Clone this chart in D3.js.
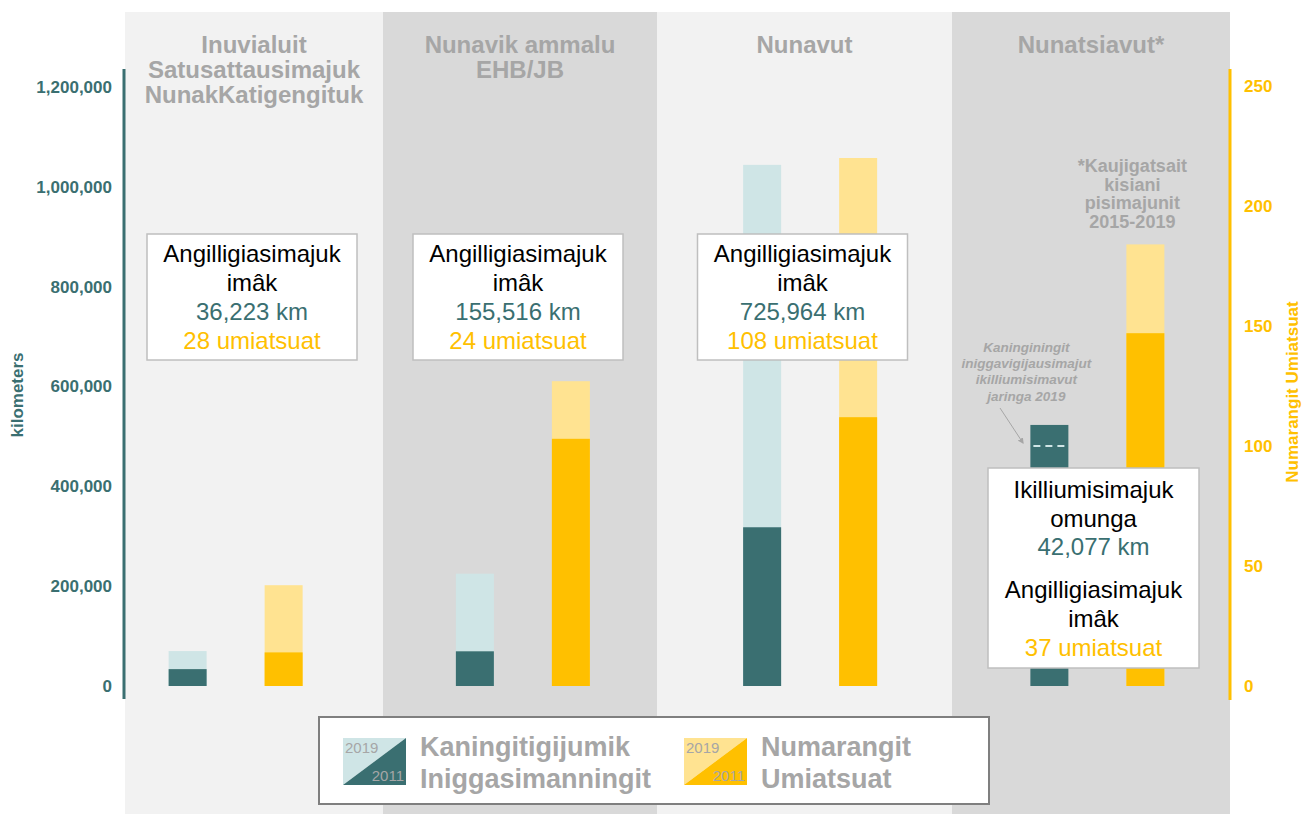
<!DOCTYPE html>
<html><head><meta charset="utf-8">
<script src="https://cdn.jsdelivr.net/npm/d3@7"></script>
<style>
html,body{margin:0;padding:0;background:#fff;}
svg{display:block;font-family:"Liberation Sans",Arial,sans-serif;}
</style></head>
<body>
<svg id="c" width="1304" height="814"></svg>
<script>
// ---- data ----
const categories = ["Inuvialuit", "Nunavik", "Nunavut", "Nunatsiavut"];
const titleLines = [
  ["Inuvialuit", "Satusattausimajuk", "NunakKatigengituk"],
  ["Nunavik ammalu", "EHB/JB"],
  ["Nunavut"],
  ["Nunatsiavut*"]
];
const km2011 = [33800, 69500, 318000, 523000];
const km2019 = [70000, 225000, 1044000, 481000];
const ships2011 = [14, 103, 112, 147];
const ships2019 = [42, 127, 220, 184];
const kmTicks = [0, 200000, 400000, 600000, 800000, 1000000, 1200000];
const shipTicks = [0, 50, 100, 150, 200, 250];
const boxKm = ["36,223 km", "155,516 km", "725,964 km", "42,077 km"];
const boxShips = ["28 umiatsuat", "24 umiatsuat", "108 umiatsuat", "37 umiatsuat"];
const noteLines = ["*Kaujigatsait", "kisiani", "pisimajunit", "2015-2019"];
const annotLines = ["Kaninginingit", "iniggavigijausimajut", "ikilliumisimavut", "jaringa 2019"];
const legendKm = ["Kaningitigijumik", "Iniggasimanningit"];
const legendShips = ["Numarangit", "Umiatsuat"];

// ---- style ----
const C = {
  teal: "#3a6f71", tealLight: "#cfe5e6",
  yellow: "#ffc000", yellowLight: "#ffe391",
  bgLight: "#f2f2f2", bgDark: "#d9d9d9",
  gray: "#a6a6a6", boxBorder: "#bfbfbf"
};
const panelEdges = [125, 383, 657, 952, 1230];
const FONT = "Liberation Sans, Arial, sans-serif";

const svg = d3.select("#c");

// scales
const x = d3.scaleBand().domain(categories).range([92, 1241]).padding(0);
const sub = d3.scalePoint().domain(["km", "ships"]).range([-48, 48]);
const yKm = d3.scaleLinear().domain([0, 1200000]).range([686, 87]);
const yShips = d3.scaleLinear().domain([0, 250]).range([686, 86]);
const cxOf = (c, s) => x(c) + x.bandwidth() / 2 + sub(s);

// panel backgrounds
categories.forEach((c, i) => {
  svg.append("rect").attr("x", panelEdges[i]).attr("y", 12)
    .attr("width", panelEdges[i + 1] - panelEdges[i]).attr("height", 802)
    .attr("fill", i % 2 === 0 ? C.bgLight : C.bgDark);
});

// titles
categories.forEach((c, i) => {
  const cx = (panelEdges[i] + panelEdges[i + 1]) / 2;
  titleLines[i].forEach((t, j) => {
    svg.append("text").attr("x", cx).attr("y", 53 + j * 25)
      .attr("text-anchor", "middle").attr("font-weight", "bold")
      .attr("font-size", 24).attr("fill", C.gray).text(t);
  });
});

const bw = 38;
// km bars
categories.forEach((c, i) => {
  const cx = cxOf(c, "km");
  const a = km2011[i], b = km2019[i];
  if (b >= a) {
    svg.append("rect").attr("x", cx - bw / 2).attr("y", yKm(b)).attr("width", bw)
      .attr("height", yKm(0) - yKm(b)).attr("fill", C.tealLight);
    svg.append("rect").attr("x", cx - bw / 2).attr("y", yKm(a)).attr("width", bw)
      .attr("height", yKm(0) - yKm(a)).attr("fill", C.teal);
  } else {
    svg.append("rect").attr("x", cx - bw / 2).attr("y", yKm(a)).attr("width", bw)
      .attr("height", yKm(0) - yKm(a)).attr("fill", C.teal);
    svg.append("line").attr("x1", cx - bw / 2 + 3).attr("x2", cx + bw / 2 - 3)
      .attr("y1", yKm(b)).attr("y2", yKm(b))
      .attr("stroke", C.tealLight).attr("stroke-width", 2).attr("stroke-dasharray", "7,5");
  }
});
// ship bars
categories.forEach((c, i) => {
  const cx = cxOf(c, "ships");
  const a = ships2011[i], b = ships2019[i];
  svg.append("rect").attr("x", cx - bw / 2).attr("y", yShips(b)).attr("width", bw)
    .attr("height", yShips(0) - yShips(b)).attr("fill", C.yellowLight);
  svg.append("rect").attr("x", cx - bw / 2).attr("y", yShips(a)).attr("width", bw)
    .attr("height", yShips(0) - yShips(a)).attr("fill", C.yellow);
});

// axes
const axL = svg.append("g").attr("transform", "translate(124,0)")
  .call(d3.axisLeft(yKm).tickValues(kmTicks).tickFormat(d3.format(",")).tickSize(0).tickPadding(12));
axL.select(".domain").remove();
axL.selectAll("text").attr("fill", C.teal).attr("font-size", 17).attr("font-weight", "bold")
  .attr("font-family", FONT);
svg.append("line").attr("x1", 124).attr("x2", 124).attr("y1", 69).attr("y2", 699)
  .attr("stroke", C.teal).attr("stroke-width", 3);

const axR = svg.append("g").attr("transform", "translate(1230,0)")
  .call(d3.axisRight(yShips).tickValues(shipTicks).tickSize(0).tickPadding(14));
axR.select(".domain").remove();
axR.selectAll("text").attr("fill", C.yellow).attr("font-size", 17).attr("font-weight", "bold")
  .attr("font-family", FONT);
svg.append("line").attr("x1", 1230).attr("x2", 1230).attr("y1", 69).attr("y2", 700)
  .attr("stroke", C.yellow).attr("stroke-width", 3);

svg.append("text").attr("transform", "translate(23,395) rotate(-90)")
  .attr("text-anchor", "middle").attr("font-weight", "bold").attr("font-size", 17)
  .attr("fill", C.teal).text("kilometers");
svg.append("text").attr("transform", "translate(1298,392) rotate(-90)")
  .attr("text-anchor", "middle").attr("font-weight", "bold").attr("font-size", 17)
  .attr("fill", C.yellow).text("Numarangit Umiatsuat");

// note over Nunatsiavut ships bar
const noteX = cxOf("Nunatsiavut", "ships") - 13;
noteLines.forEach((t, j) => {
  svg.append("text").attr("x", noteX).attr("y", 172 + j * 18.7)
    .attr("text-anchor", "middle").attr("font-weight", "bold").attr("font-size", 18)
    .attr("fill", C.gray).text(t);
});
// annotation
const annX = cxOf("Nunatsiavut", "km") - 23;
annotLines.forEach((t, j) => {
  svg.append("text").attr("x", annX).attr("y", 352 + j * 16.2)
    .attr("text-anchor", "middle").attr("font-weight", "bold").attr("font-style", "italic")
    .attr("font-size", 13.5).attr("fill", C.gray).text(t);
});
svg.append("defs").append("marker").attr("id", "ah").attr("viewBox", "0 0 10 10")
  .attr("refX", 8).attr("refY", 5).attr("markerWidth", 6).attr("markerHeight", 6)
  .attr("orient", "auto").append("path").attr("d", "M0,0L10,5L0,10z").attr("fill", C.gray);
svg.append("line").attr("x1", 1000).attr("y1", 408).attr("x2", 1023).attr("y2", 443)
  .attr("stroke", C.gray).attr("stroke-width", 1).attr("marker-end", "url(#ah)");

// value boxes
function textBox(cx, y0, w, h, lines) {
  svg.append("rect").attr("x", cx - w / 2).attr("y", y0).attr("width", w).attr("height", h)
    .attr("fill", "#fff").attr("stroke", C.boxBorder).attr("stroke-width", 1.5);
  lines.forEach(l => {
    svg.append("text").attr("x", cx).attr("y", l.y).attr("text-anchor", "middle")
      .attr("font-size", 24).attr("fill", l.c).text(l.t);
  });
}
[0, 1, 2].forEach(i => {
  const cx = (panelEdges[i] + panelEdges[i + 1]) / 2 - 2;
  textBox(cx, 234, 210, 126, [
    {t: "Angilligiasimajuk", y: 262, c: "#000"},
    {t: "imâk", y: 291, c: "#000"},
    {t: boxKm[i], y: 320, c: C.teal},
    {t: boxShips[i], y: 349, c: C.yellow}
  ]);
});
textBox(1093.5, 468, 211, 200, [
  {t: "Ikilliumisimajuk", y: 498, c: "#000"},
  {t: "omunga", y: 527, c: "#000"},
  {t: boxKm[3], y: 555, c: C.teal},
  {t: "Angilligiasimajuk", y: 598, c: "#000"},
  {t: "imâk", y: 627, c: "#000"},
  {t: boxShips[3], y: 656, c: C.yellow}
]);

// legend
svg.append("rect").attr("x", 319).attr("y", 717).attr("width", 670).attr("height", 87)
  .attr("fill", "#fff").attr("stroke", "#7f7f7f").attr("stroke-width", 2);
function swatch(x0, light, dark, lines) {
  const y0 = 738, w = 63, h = 47;
  svg.append("path").attr("d", `M${x0},${y0}H${x0 + w}L${x0},${y0 + h}Z`).attr("fill", light);
  svg.append("path").attr("d", `M${x0 + w},${y0}V${y0 + h}H${x0}Z`).attr("fill", dark);
  svg.append("text").attr("x", x0 + 2).attr("y", y0 + 15).attr("font-size", 15)
    .attr("fill", C.gray).text("2019");
  svg.append("text").attr("x", x0 + w - 2).attr("y", y0 + h - 4).attr("font-size", 15)
    .attr("text-anchor", "end").attr("fill", C.gray).text("2011");
  lines.forEach((t, j) => {
    svg.append("text").attr("x", x0 + w + 14).attr("y", y0 + 18 + j * 32)
      .attr("font-size", 27).attr("font-weight", "bold").attr("fill", C.gray).text(t);
  });
}
swatch(343, C.tealLight, C.teal, legendKm);
swatch(684, C.yellowLight, C.yellow, legendShips);
</script>
</body></html>
